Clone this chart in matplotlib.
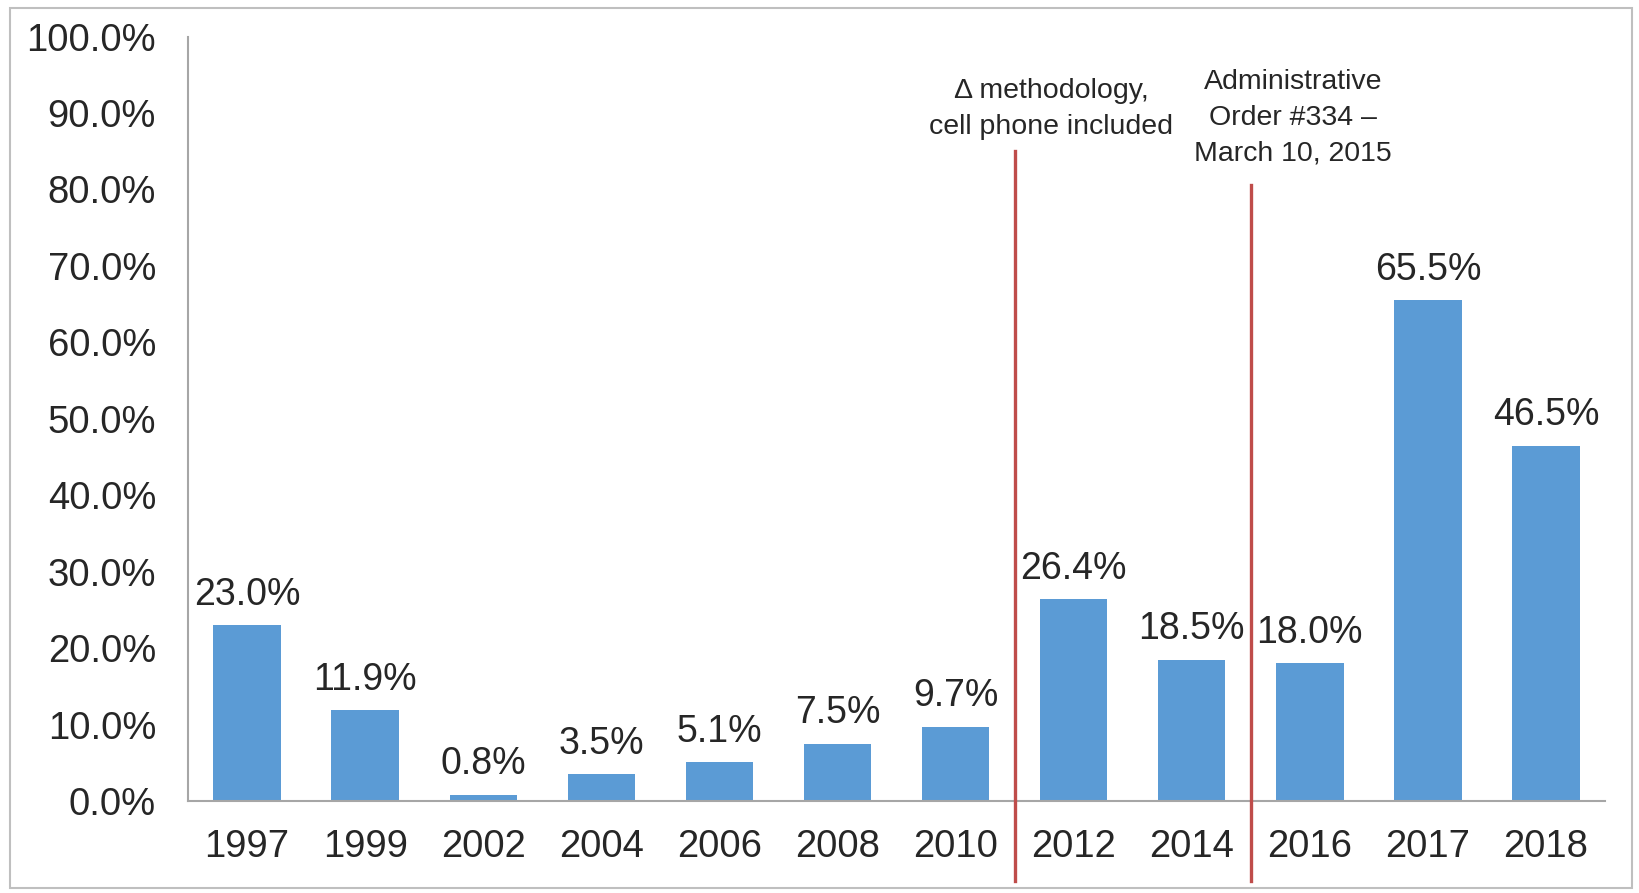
import matplotlib.pyplot as plt
from matplotlib.patches import Rectangle

plt.rcParams['font.family'] = ['Liberation Sans', 'DejaVu Sans']

years = ["1997", "1999", "2002", "2004", "2006", "2008", "2010",
         "2012", "2014", "2016", "2017", "2018"]
share = [23.0, 11.9, 0.8, 3.5, 5.1, 7.5, 9.7, 26.4, 18.5, 18.0, 65.5, 46.5]
y_ticks = [0, 10, 20, 30, 40, 50, 60, 70, 80, 90, 100]

# vertical markers between categories:
# (x position, top of line in axes fraction, text x shift, text gap, note)
markers = [(6.5, 0.85, 0.31, 0.015, "\u0394 methodology,\ncell phone included"),
           (8.5, 0.806, 0.36, 0.024, "Administrative\nOrder #334 \u2013\nMarch 10, 2015")]

bar_color = "#5B9BD5"
line_color = "#BF4C4A"
text_color = "#262626"
axis_color = "#A6A6A6"

fig = plt.figure(figsize=(16.39, 8.93), dpi=100)
ax = fig.add_axes([0.1147, 0.103, 0.8646, 0.856])

x = list(range(len(years)))
ax.bar(x, share, width=0.57, color=bar_color, zorder=2)

for xi, v in zip(x, share):
    ax.annotate(f"{v:.1f}%", (xi, v), xytext=(0, 9), textcoords="offset points",
                ha="center", va="bottom", fontsize=27, color=text_color)

ax.set_xlim(-0.5, len(years) - 0.5)
ax.set_ylim(0, 100)
ax.set_yticks(y_ticks)
ax.set_yticklabels([f"{t:.1f}%" for t in y_ticks])
ax.set_xticks(x)
ax.set_xticklabels(years)
ax.tick_params(axis="y", length=0, pad=23, labelsize=27.5, labelcolor=text_color)
ax.tick_params(axis="x", length=0, pad=20, labelsize=27.5, labelcolor=text_color)

for side in ["top", "right"]:
    ax.spines[side].set_visible(False)
for side in ["left", "bottom"]:
    ax.spines[side].set_color(axis_color)
    ax.spines[side].set_linewidth(1.5)

trans = ax.get_xaxis_transform()
for xpos, top, shift, gap, note in markers:
    ax.plot([xpos, xpos], [-0.105, top], color=line_color, lw=2.4,
            transform=trans, clip_on=False, zorder=3)
    ax.text(xpos + shift, top + gap, note, transform=trans, ha="center",
            va="bottom", fontsize=20.5, color=text_color, linespacing=1.5)

# thin frame around the whole chart
fig.patches.append(Rectangle((0.006, 0.006), 0.99, 0.985, transform=fig.transFigure,
                             fill=False, edgecolor="#BFBFBF", lw=1.5))

fig.savefig("out.png", dpi=100)
